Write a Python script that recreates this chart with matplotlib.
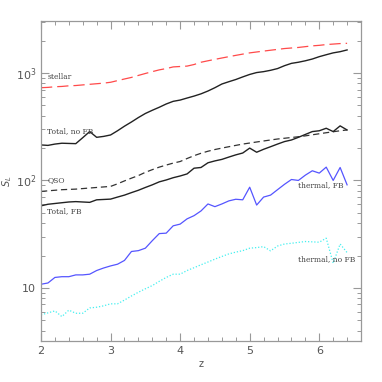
import numpy as np
import matplotlib
matplotlib.use("Agg")
import matplotlib.pyplot as plt
from matplotlib.ticker import FixedLocator, FixedFormatter, MultipleLocator, NullFormatter

z = [2.0, 2.1, 2.2, 2.3, 2.4, 2.5, 2.6, 2.7, 2.8, 2.9,
     3.0, 3.1, 3.2, 3.3, 3.4, 3.5, 3.6, 3.7, 3.8, 3.9,
     4.0, 4.1, 4.2, 4.3, 4.4, 4.5, 4.6, 4.7, 4.8, 4.9,
     5.0, 5.1, 5.2, 5.3, 5.4, 5.5, 5.6, 5.7, 5.8, 5.9,
     6.0, 6.1, 6.2, 6.3, 6.4]

stellar = [730, 735, 745, 750, 760, 765, 775, 785, 795, 805,
           820, 850, 880, 910, 950, 990, 1030, 1070, 1100, 1140,
           1150, 1160, 1200, 1260, 1300, 1340, 1380, 1420, 1460, 1500,
           1540, 1570, 1600, 1630, 1660, 1690, 1710, 1730, 1760, 1790,
           1810, 1840, 1860, 1880, 1890]

total_nofb = [214, 212, 218, 222, 221, 220, 250, 285, 252, 257,
              265, 290, 320, 350, 385, 420, 450, 480, 515, 545,
              560, 585, 610, 640, 680, 730, 790, 830, 870, 920,
              970, 1010, 1030, 1060, 1100, 1170, 1230, 1260, 1300, 1350,
              1420, 1480, 1540, 1580, 1640]

qso = [79, 80, 81, 82, 82.5, 83, 84, 85, 86, 87,
       88, 93, 99, 105, 111, 119, 126, 133, 139, 145,
       150, 160, 170, 179, 187, 194, 200, 206, 212, 218,
       223, 228, 233, 238, 243, 247, 251, 255, 260, 266,
       272, 278, 284, 290, 295]

total_fb = [58, 60, 61, 62, 63, 63.5, 63, 62.5, 66, 66.5,
            67, 70, 73, 77, 81, 86, 91, 97, 101, 106,
            110, 115, 130, 132, 146, 152, 157, 165, 173, 180,
            200, 183, 195, 206, 218, 230, 238, 252, 268, 285,
            290, 306, 285, 322, 295]

thermal_fb = [10.8, 11.1, 12.5, 12.7, 12.7, 13.2, 13.2, 13.4, 14.5, 15.3,
              16.0, 16.6, 18.0, 21.8, 22.2, 23.4, 27.5, 32, 32.3, 37.8,
              39.2, 43.9, 47, 52, 60.4, 57, 60.4, 64.5, 66.8, 66,
              86.5, 59, 70, 73, 82, 92, 102, 100, 112, 123,
              117, 133, 100, 132, 91]

thermal_nofb = [5.6, 5.85, 6.1, 5.4, 6.2, 5.8, 5.8, 6.5, 6.6, 6.8,
                7.1, 7.1, 7.7, 8.4, 9.1, 9.8, 10.5, 11.5, 12.5, 13.4,
                13.4, 14.5, 15.4, 16.4, 17.4, 18.5, 19.6, 20.7, 21.5, 22.2,
                23.4, 23.7, 24.2, 22.1, 24.5, 25.6, 26, 26.5, 27, 26.8,
                26.6, 29, 17, 25.6, 21.3]

ytick_vals = [10, 100, 1000]
ytick_labels = ['10', '$10^2$', '$10^3$']
xtick_vals = [2, 3, 4, 5, 6]

fig = plt.figure(figsize=(3.82, 3.82), dpi=100)
ax = fig.add_axes([41/382, 1 - 341/382, 320/382, 320/382])

ax.plot(z, stellar, color='#ff4a4a', lw=0.9, dashes=(9, 4))
ax.plot(z, total_nofb, color='#222222', lw=1.0)
ax.plot(z, qso, color='#333333', lw=0.9, dashes=(5, 3))
ax.plot(z, total_fb, color='#222222', lw=1.0)
ax.plot(z, thermal_fb, color='#5555ff', lw=0.9)
ax.plot(z, thermal_nofb, color='#44f0f0', lw=0.9, linestyle=(0, (1, 1.5)))

ax.set_yscale('log')
ax.set_xlim(2, 6.6)
ax.set_ylim(3.2, 3050)

ax.yaxis.set_major_locator(FixedLocator(ytick_vals))
ax.yaxis.set_major_formatter(FixedFormatter(ytick_labels))
ax.yaxis.set_minor_locator(FixedLocator([m * d for d in [1, 10, 100, 1000] for m in range(2, 10) if 3.2 <= m * d <= 3050]))
ax.yaxis.set_minor_formatter(NullFormatter())
ax.xaxis.set_major_locator(FixedLocator(xtick_vals))
ax.xaxis.set_minor_locator(MultipleLocator(0.2))

for s in ax.spines.values():
    s.set_color('#999999')
    s.set_linewidth(0.9)
ax.tick_params(which='both', direction='in', top=True, right=True, colors='#999999',
               labelcolor='#555555', labelsize=8)
ax.tick_params(which='major', length=6, width=0.8)
ax.tick_params(which='minor', length=3, width=0.7)

ax.set_xlabel('z', fontsize=7, color='#555555', labelpad=2)
ax.set_ylabel('$S_L$', fontsize=7, color='#555555')
ax.yaxis.set_label_coords(-0.085, 0.5)

tfont = dict(fontsize=5.5, color='#444444', family='DejaVu Serif')
ax.text(2.09, 925, 'stellar', va='center', ha='left', **tfont)
ax.text(2.09, 288, 'Total, no FB', va='center', ha='left', **tfont)
ax.text(2.09, 101, 'QSO', va='center', ha='left', **tfont)
ax.text(2.09, 52, 'Total, FB', va='center', ha='left', **tfont)
ax.text(5.70, 90, 'thermal, FB', va='center', ha='left', **tfont)
ax.text(5.70, 18.5, 'thermal, no FB', va='center', ha='left', **tfont)

fig.savefig('out.png', dpi=100)
